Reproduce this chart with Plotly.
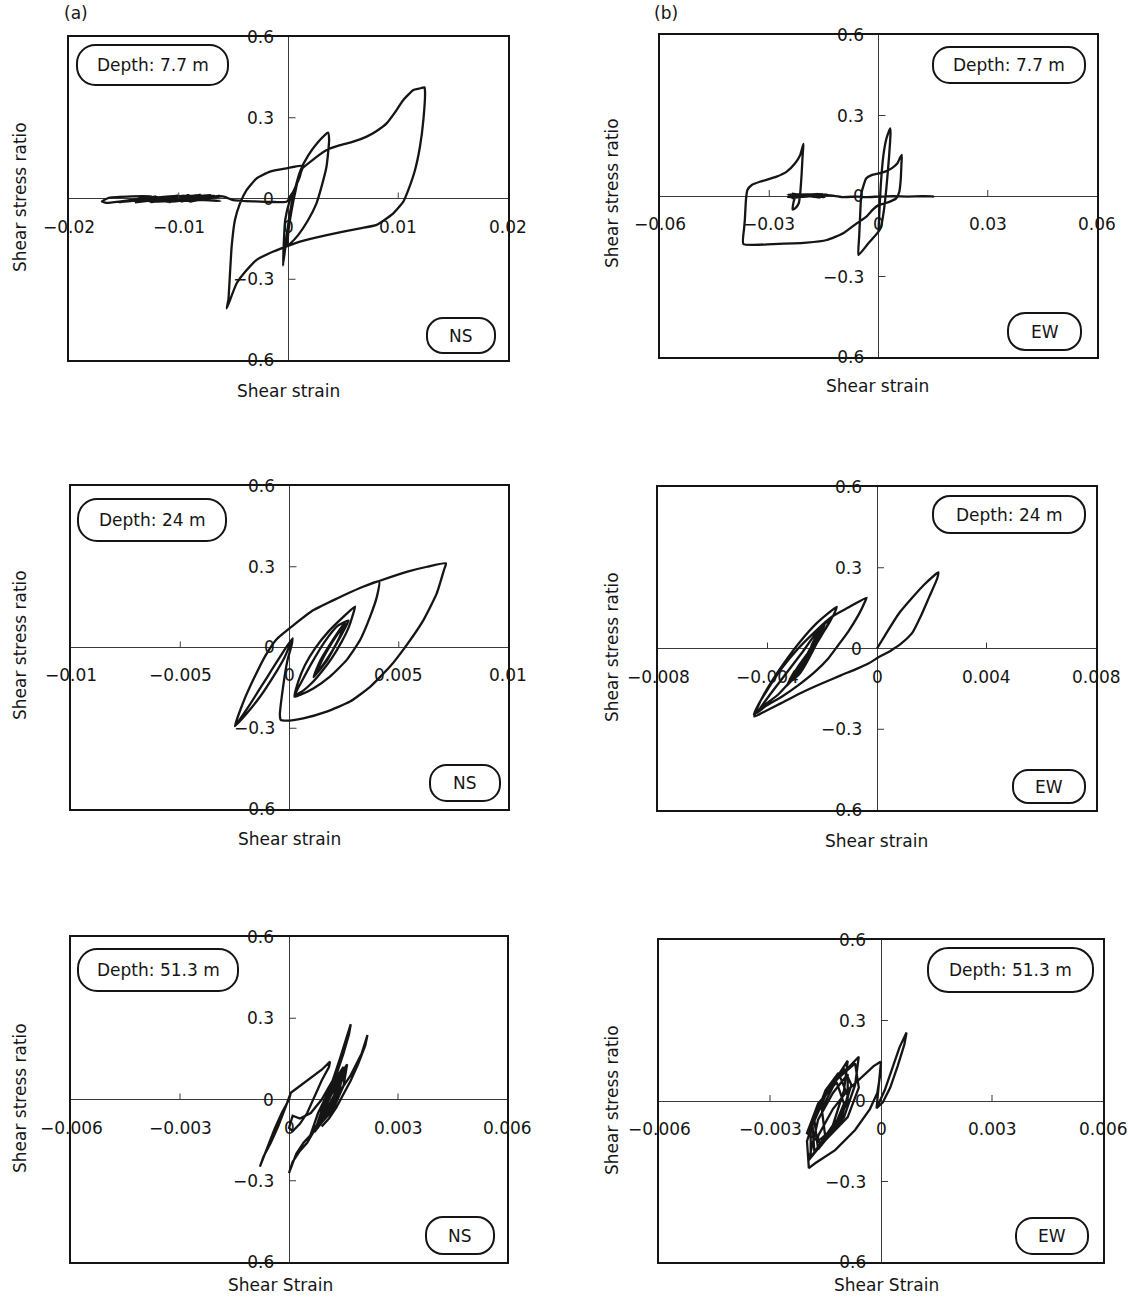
import plotly.graph_objects as go

W, H = 1129, 1297
FONT = "DejaVu Sans"
INK = "#151515"

# ---------------- data: shear strain / shear stress ratio ----------------
# (a) NS, depth 7.7 m
strain_ns_77 = [
    0.0, 0.0005, 0.0013, 0.0007, 0.0001, -0.0003, -0.0005, -0.0002, 0.0001, 0.0005, 0.0011,
    0.0018, 0.0027, 0.0036,
    0.0037, 0.00346, 0.00301, 0.00255, 0.00179, 0.00088, 0.00012, -0.00009,
    0.0, 0.0003, 0.0007, 0.0011,
    0.0021, 0.00348, 0.0047, 0.0059, 0.00712, 0.0080, 0.00894, 0.0097, 0.01046, 0.01138, 0.0119, 0.01238,
    0.01244, 0.01229, 0.01198, 0.01153, 0.01092, 0.01046, 0.00955, 0.00803, 0.00652, 0.00348, 0.00105,
    0.00014, -0.00138, -0.0029, -0.00381, -0.00472, -0.00563,
    -0.00548, -0.00533, -0.00518, -0.00488, -0.00442, -0.00381, -0.0029, -0.00169, -0.00017, 0.0012,
    0.00103, 0.00058, 0.00021, -0.00018,
    -0.00125, -0.00307, -0.00504,
    -0.0060, -0.0090, -0.0062, -0.0110, -0.0070, -0.0125, -0.0080, -0.0140, -0.0095, -0.0155,
    -0.0120, -0.0166, -0.0170, -0.0163, -0.0125, -0.0145, -0.0100, -0.0130, -0.0075, -0.0105,
    -0.0065, -0.0115, -0.0085, -0.0128, -0.0100, -0.0118, -0.0072, -0.0132, -0.0090, -0.0122,
    -0.0068, -0.0112, -0.0078, -0.0136, -0.0094, -0.0126, -0.0060, -0.0098, -0.0070, -0.0120,
    -0.0084, -0.0130, -0.0105, -0.0062, -0.0088,
]
ratio_ns_77 = [
    0.0, 0.03, 0.116, 0.05, -0.01, -0.08, -0.25, -0.15, -0.06, 0.02, 0.105,
    0.16, 0.21, 0.245,
    0.217, 0.118, 0.044, -0.018, -0.080, -0.136, -0.169, -0.176,
    -0.12, -0.04, 0.04, 0.105,
    0.14, 0.18, 0.198, 0.211, 0.23, 0.25, 0.279, 0.32, 0.366, 0.403, 0.408, 0.413,
    0.397, 0.292, 0.193, 0.106, 0.032, -0.012, -0.055, -0.098, -0.111, -0.136, -0.160,
    -0.173, -0.197, -0.228, -0.266, -0.315, -0.408,
    -0.377, -0.278, -0.179, -0.08, -0.018, 0.032, 0.075, 0.1, 0.112, 0.121,
    0.081, 0.038, 0.007, -0.012,
    -0.013, -0.011, -0.006,
    0.008, -0.012, 0.011, -0.014, 0.012, -0.013, 0.013, -0.014, 0.011, -0.015,
    0.008, -0.016, -0.011, 0.003, 0.009, -0.008, 0.012, -0.010, 0.012, -0.012,
    0.009, -0.010, 0.011, -0.008, 0.010, -0.006, 0.012, -0.011, 0.013, -0.012,
    0.010, -0.013, 0.012, -0.010, 0.011, -0.014, 0.008, -0.012, 0.010, -0.009,
    0.012, -0.007, 0.006, -0.009, -0.004,
]

# (b) EW, depth 7.7 m
strain_ew_77 = [
    0.0, 0.00014, 0.0006, 0.0013, 0.0022, 0.0032, 0.0033, 0.0029, 0.0022, 0.0015, 0.0007, 0.0,
    -0.003, -0.0055,
    -0.0053, -0.0050, -0.0047, -0.0042, -0.0034, -0.0019, 0.0, 0.0018, 0.0038, 0.0052, 0.0059, 0.0064,
    0.0063, 0.0061, 0.0057, 0.0048, 0.0036, 0.0018, 0.0, -0.0015, -0.0033, -0.006, -0.0097,
    -0.0142, -0.0197, -0.0289, -0.0371,
    -0.0369, -0.0367, -0.0364, -0.036, -0.0348, -0.0326, -0.028, -0.0252, -0.0229, -0.0215, -0.0206,
    -0.0208, -0.0211, -0.0215, -0.0219, -0.0229, -0.0236, -0.0233, -0.0229,
    -0.0245, -0.0160, -0.0238, -0.0148, -0.0250, -0.0145, -0.0232, -0.0165, -0.0242, -0.0152,
    -0.0236, -0.0158, -0.0248, -0.0143, -0.0228, -0.0172, -0.0240, -0.0140,
    -0.0100, -0.0060, -0.0030, 0.0, 0.0040, 0.0080, 0.0120, 0.0150, 0.0152,
]
ratio_ew_77 = [
    -0.133, -0.089, 0.035, 0.147, 0.215, 0.252, 0.234, 0.147, 0.035, -0.052, -0.114, -0.133,
    -0.18, -0.22,
    -0.15, -0.06, 0.01, 0.035, 0.065, 0.078, 0.084, 0.091, 0.105, 0.122, 0.142, 0.153,
    0.12, 0.06, 0.015, -0.01, -0.018, -0.027, -0.034, -0.05, -0.077, -0.102, -0.139,
    -0.164, -0.174, -0.179, -0.179,
    -0.12, -0.089, -0.015, 0.022, 0.041, 0.053, 0.072, 0.091, 0.122, 0.153, 0.194,
    0.159, 0.084, 0.01, -0.027, -0.046, -0.05, -0.021, -0.002,
    0.007, -0.006, 0.009, -0.005, 0.005, 0.006, -0.006, 0.008, -0.004, 0.006,
    -0.007, 0.007, -0.003, 0.005, -0.006, 0.006, -0.002, 0.003,
    -0.004, -0.002, -0.004, -0.002, -0.001, -0.002, -0.001, -0.002, -0.005,
]

# (a) NS, depth 24 m
strain_ns_24 = [
    0.0, 0.00014,
    -0.00021, -0.00074, -0.00135, -0.00196, -0.0025,
    -0.0021, -0.0016, -0.0011, -0.0006, 0.0002, 0.0011, 0.0022, 0.0032, 0.0041, 0.0054, 0.0063, 0.00716,
    0.00707, 0.00674, 0.00613, 0.00536, 0.0046, 0.00369, 0.00277, 0.0017, 0.00063, -0.00013, -0.0004, -0.00044,
    -0.0003, -0.0001, 0.0001, 0.00014,
    -0.0004, -0.0011, -0.0018, -0.0025,
    -0.0021, -0.0016, -0.0011, -0.0006, 0.0002, 0.0011, 0.0022, 0.0032, 0.0041,
    0.004, 0.00369, 0.00323, 0.00262, 0.00185, 0.00109, 0.00048, 0.00023,
    0.0004, 0.00071, 0.00117, 0.00178, 0.00239, 0.0030,
    0.00292, 0.00269, 0.00239, 0.00193, 0.00147, 0.00101, 0.00056, 0.00025,
    0.0006, 0.0010, 0.0016, 0.0022, 0.0027, 0.0024, 0.0019, 0.0014, 0.0011, 0.0014, 0.0020, 0.0025,
    0.0023, 0.0017, 0.0012, 0.0016, 0.0022, 0.0026,
]
ratio_ns_24 = [
    0.0, 0.034,
    -0.034, -0.108, -0.183, -0.245, -0.292,
    -0.20, -0.11, -0.03, 0.03, 0.084, 0.139, 0.183, 0.220, 0.247, 0.282, 0.300, 0.313,
    0.288, 0.201, 0.102, 0.009, -0.071, -0.146, -0.201, -0.238, -0.263, -0.272, -0.269, -0.251,
    -0.15, -0.05, 0.01, 0.034,
    -0.03, -0.12, -0.21, -0.292,
    -0.20, -0.11, -0.03, 0.03, 0.084, 0.139, 0.183, 0.220, 0.247,
    0.189, 0.115, 0.028, -0.046, -0.108, -0.152, -0.176, -0.183,
    -0.127, -0.065, -0.003, 0.059, 0.108, 0.152,
    0.127, 0.071, 0.022, -0.04, -0.09, -0.133, -0.164, -0.176,
    -0.12, -0.06, 0.02, 0.08, 0.10, 0.05, -0.02, -0.08, -0.11, -0.05, 0.03, 0.09,
    0.04, -0.05, -0.10, -0.03, 0.05, 0.09,
]

# (b) EW, depth 24 m
strain_ew_24 = [
    0.0, 0.0003, 0.0008, 0.0013, 0.0017, 0.00224,
    0.0022, 0.0019, 0.0016, 0.0013, 0.0009, 0.0005, 0.0001, -0.0003,
    -0.0007, -0.0013, -0.002, -0.0028, -0.0035, -0.0041, -0.00448,
    -0.00427, -0.00385, -0.00336, -0.00281, -0.0022, -0.00147,
    -0.00153, -0.00172, -0.00202, -0.00239, -0.00275, -0.00312, -0.0036, -0.0041, -0.0045,
    -0.00434, -0.00397, -0.00348, -0.00287, -0.00226, -0.00165, -0.00105, -0.00038,
    -0.00044, -0.00068, -0.00105, -0.00141, -0.00178, -0.00226, -0.00287, -0.00348, -0.00409, -0.0044,
    -0.0039, -0.0033, -0.0027, -0.0022, -0.0017, -0.0019, -0.0024, -0.0029, -0.0032, -0.0033,
    -0.0028, -0.0022, -0.0019, -0.0021, -0.0026, -0.0030, -0.0027, -0.0022, -0.0019, -0.0023,
    -0.0028, -0.0031, -0.0026, -0.0021, -0.00195, -0.0024, -0.0029, -0.0027, -0.0022, -0.0020,
    -0.0025, -0.0030, -0.0028, -0.0023, -0.0020, -0.0024,
]
ratio_ew_24 = [
    0.0, 0.05, 0.13, 0.19, 0.235, 0.283,
    0.26, 0.19, 0.12, 0.06, 0.02, -0.008, -0.03, -0.055,
    -0.074, -0.099, -0.129, -0.166, -0.203, -0.234, -0.253,
    -0.198, -0.123, -0.049, 0.025, 0.094, 0.155,
    0.137, 0.1, 0.05, -0.012, -0.074, -0.117, -0.17, -0.21, -0.245,
    -0.21, -0.148, -0.074, 0.001, 0.063, 0.118, 0.152, 0.189,
    0.174, 0.124, 0.063, 0.013, -0.037, -0.086, -0.136, -0.179, -0.216, -0.241,
    -0.17, -0.09, -0.01, 0.06, 0.112, 0.07, 0.0, -0.07, -0.12, -0.14,
    -0.08, 0.03, 0.10, 0.04, -0.05, -0.11, -0.05, 0.04, 0.09, 0.0,
    -0.09, -0.12, -0.03, 0.06, 0.08, -0.01, -0.10, -0.06, 0.05, 0.08,
    -0.02, -0.10, -0.07, 0.02, 0.09, 0.01,
]

# (a) NS, depth 51.3 m
strain_ns_513 = [
    0.0, 0.00005, -0.0001, -0.0003, -0.0005, -0.0007, -0.0008, -0.0006, -0.0004, -0.0002, 0.0, 0.00005,
    0.0003, 0.0006, 0.0009, 0.00113,
    0.0011, 0.0009, 0.0007, 0.0005, 0.0003, 0.0001, 0.0, 0.0001,
    0.0003, 0.0006, 0.0009, 0.0012, 0.0014, 0.0016, 0.0017,
    0.00165, 0.0015, 0.0013, 0.0011, 0.0009, 0.0007, 0.00056,
    0.0008, 0.0012, 0.0015, 0.0014, 0.0011, 0.0007,
    0.0009, 0.0013, 0.0016, 0.0015, 0.0012, 0.0008,
    0.0010, 0.0013, 0.0014, 0.0013, 0.0010, 0.0007,
    0.0009, 0.0011, 0.0014, 0.0012, 0.0009,
    0.0011, 0.0015, 0.00155, 0.0013, 0.0010, 0.0008,
    0.0005, 0.0003, 0.0001, 0.0,
    0.0002, 0.0004, 0.0006, 0.0009, 0.0013, 0.0017, 0.0020, 0.00216,
    0.0021, 0.0019, 0.0017, 0.0015, 0.0013, 0.0011, 0.0009,
]
ratio_ns_513 = [
    0.0, 0.025, -0.03, -0.10, -0.16, -0.21, -0.248, -0.18, -0.11, -0.05, 0.0, 0.025,
    0.05, 0.08, 0.11, 0.14,
    0.12, 0.07, 0.01, -0.05, -0.09, -0.117, -0.105, -0.06,
    -0.07, -0.05, 0.0, 0.07, 0.15, 0.23, 0.278,
    0.24, 0.17, 0.09, 0.01, -0.06, -0.11, -0.143,
    -0.05, 0.06, 0.12, 0.04, -0.05, -0.12,
    -0.04, 0.07, 0.13, 0.05, -0.04, -0.10,
    -0.02, 0.05, 0.09, 0.02, -0.06, -0.11,
    -0.06, 0.0, 0.08, 0.0, -0.08,
    -0.02, 0.08, 0.11, 0.03, -0.05, -0.09,
    -0.16, -0.19, -0.23, -0.272,
    -0.2, -0.16, -0.13, -0.07, 0.01, 0.09, 0.17, 0.238,
    0.20, 0.13, 0.07, 0.02, -0.03, -0.07, -0.1,
]

# (b) EW, depth 51.3 m
strain_ew_513 = [
    -0.00012, 0.0001, 0.0003, 0.0005, 0.00069,
    0.00063, 0.00045, 0.00025, 0.00005, -0.00012,
    0.0, -0.00003, -0.0001, -0.0003, -0.0007, -0.00124, -0.00178, -0.00195,
    -0.0020, -0.0017, -0.0009, -0.0010, -0.0013, -0.0019,
    -0.0019, -0.0014, -0.0006, -0.0007, -0.0010, -0.0017,
    -0.0018, -0.0015, -0.00115, -0.0009, -0.0011, -0.0018,
    -0.00185, -0.0015, -0.0010, -0.0008, -0.0010, -0.0015,
    -0.0016, -0.0012, -0.0007, -0.0006, -0.0009, -0.0016,
    -0.0020, -0.0017, -0.0012, -0.0010, -0.0013, -0.00195,
    -0.0017, -0.0013, -0.0009, -0.0009, -0.0012, -0.0017,
    -0.0017, -0.0013, -0.0009, -0.0005, -0.0002, 0.0,
]
ratio_ew_513 = [
    -0.027, 0.04, 0.12, 0.20, 0.255,
    0.21, 0.13, 0.05, -0.005, -0.027,
    0.147, 0.09, 0.03, -0.03, -0.108, -0.183, -0.232, -0.25,
    -0.15, -0.02, 0.15, 0.04, -0.09, -0.21,
    -0.10, 0.05, 0.165, 0.06, -0.06, -0.18,
    -0.07, 0.04, 0.105, 0.02, -0.08, -0.19,
    -0.09, 0.02, 0.12, 0.06, -0.03, -0.14,
    -0.03, 0.08, 0.14, 0.05, -0.06, -0.16,
    -0.12, -0.01, 0.07, -0.01, -0.11, -0.22,
    -0.07, 0.03, 0.10, 0.0, -0.09, -0.15,
    -0.13, -0.03, 0.04, 0.09, 0.13, 0.147,
]

# tick values and labels
y_ticks = [0.6, 0.3, 0.0, -0.3, -0.6]
y_tick_text = ["0.6", "0.3", "0", "\u22120.3", "\u22120.6"]
x_ticks_ns_77 = [-0.02, -0.01, 0.0, 0.01, 0.02]
x_text_ns_77 = ["\u22120.02", "\u22120.01", "0", "0.01", "0.02"]
x_ticks_ew_77 = [-0.06, -0.03, 0.0, 0.03, 0.06]
x_text_ew_77 = ["\u22120.06", "\u22120.03", "0", "0.03", "0.06"]
x_ticks_ns_24 = [-0.01, -0.005, 0.0, 0.005, 0.01]
x_text_ns_24 = ["\u22120.01", "\u22120.005", "0", "0.005", "0.01"]
x_ticks_ew_24 = [-0.008, -0.004, 0.0, 0.004, 0.008]
x_text_ew_24 = ["\u22120.008", "\u22120.004", "0", "0.004", "0.008"]
x_ticks_513 = [-0.006, -0.003, 0.0, 0.003, 0.006]
x_text_513 = ["\u22120.006", "\u22120.003", "0", "0.003", "0.006"]

# ---------------- panel layout (pixel boxes: left, right, top, bottom) ----------------
panels = [
    dict(x=strain_ns_77, y=ratio_ns_77, ticks=x_ticks_ns_77, text=x_text_ns_77, shape="spline",
         box=(69, 508, 37, 360), depth="Depth: 7.7 m", depth_box=(77, 228, 45, 85),
         comp="NS", comp_box=(427, 495, 318, 353), xtitle="Shear strain", xt=(288, 391), yt=(20, 197)),
    dict(x=strain_ew_77, y=ratio_ew_77, ticks=x_ticks_ew_77, text=x_text_ew_77, shape="spline",
         box=(660, 1097, 35, 357), depth="Depth: 7.7 m", depth_box=(933, 1085, 47, 83),
         comp="EW", comp_box=(1008, 1081, 313, 350), xtitle="Shear strain", xt=(877, 386), yt=(612, 193)),
    dict(x=strain_ns_24, y=ratio_ns_24, ticks=x_ticks_ns_24, text=x_text_ns_24, shape="spline",
         box=(71, 508, 486, 809), depth="Depth: 24 m", depth_box=(78, 226, 499, 541),
         comp="NS", comp_box=(430, 500, 765, 801), xtitle="Shear strain", xt=(289, 839), yt=(20, 645)),
    dict(x=strain_ew_24, y=ratio_ew_24, ticks=x_ticks_ew_24, text=x_text_ew_24, shape="spline",
         box=(658, 1096, 487, 810), depth="Depth: 24 m", depth_box=(933, 1085, 496, 533),
         comp="EW", comp_box=(1013, 1085, 770, 803), xtitle="Shear strain", xt=(876, 841), yt=(612, 647)),
    dict(x=strain_ns_513, y=ratio_ns_513, ticks=x_ticks_513, text=x_text_513, shape="linear",
         box=(71, 507, 937, 1262), depth="Depth: 51.3 m", depth_box=(78, 238, 949, 991),
         comp="NS", comp_box=(426, 494, 1217, 1254), xtitle="Shear Strain", xt=(280, 1285), yt=(20, 1098)),
    dict(x=strain_ew_513, y=ratio_ew_513, ticks=x_ticks_513, text=x_text_513, shape="linear",
         box=(659, 1103, 940, 1262), depth="Depth: 51.3 m", depth_box=(928, 1093, 948, 992),
         comp="EW", comp_box=(1016, 1088, 1218, 1254), xtitle="Shear Strain", xt=(886, 1285), yt=(612, 1100)),
]


def px(xp, yp):
    return xp / W, 1 - yp / H


def pill_path(l, r, t, b):
    rad = (b - t) / 2 * 0.92
    k = 0.5523 * rad
    pts = [
        ("M", [(l + rad, t)]),
        ("L", [(r - rad, t)]),
        ("C", [(r - rad + k, t), (r, t + rad - k), (r, t + rad)]),
        ("L", [(r, b - rad)]),
        ("C", [(r, b - rad + k), (r - rad + k, b), (r - rad, b)]),
        ("L", [(l + rad, b)]),
        ("C", [(l + rad - k, b), (l, b - rad + k), (l, b - rad)]),
        ("L", [(l, t + rad)]),
        ("C", [(l, t + rad - k), (l + rad - k, t), (l + rad, t)]),
    ]
    out = []
    for cmd, coords in pts:
        s = " ".join("%.5f,%.5f" % px(a, c) for a, c in coords)
        out.append(cmd + " " + s)
    return " ".join(out) + " Z"


fig = go.Figure()
annotations = []
shapes = []
layout_axes = {}

for i, p in enumerate(panels, start=1):
    xa = "x" if i == 1 else "x%d" % i
    ya = "y" if i == 1 else "y%d" % i
    xr = max(p["ticks"])
    l, r, t, b = p["box"]

    line_style = dict(color=INK, width=2.3, shape=p["shape"])
    if p["shape"] == "spline":
        line_style["smoothing"] = 0.5
    fig.add_trace(go.Scatter(
        x=p["x"], y=p["y"], mode="lines", xaxis=xa, yaxis=ya,
        line=line_style, hoverinfo="skip", showlegend=False,
    ))

    common = dict(showgrid=False, zeroline=True, zerolinecolor="#3a3a3a", zerolinewidth=1,
                  showline=True, mirror=True, linecolor=INK, linewidth=2.2,
                  showticklabels=False, ticks="", fixedrange=True)
    layout_axes["xaxis" if i == 1 else "xaxis%d" % i] = dict(
        common, domain=[l / W, r / W], range=[-xr, xr], anchor=ya)
    layout_axes["yaxis" if i == 1 else "yaxis%d" % i] = dict(
        common, domain=[1 - b / H, 1 - t / H], range=[-0.6, 0.6], anchor=xa)

    # strain tick labels under the zero line, short ticks above it
    for v, txt in zip(p["ticks"], p["text"]):
        annotations.append(dict(xref=xa, yref=ya, x=v, y=0, text=txt, showarrow=False,
                                xanchor="center", yanchor="middle", yshift=-28,
                                font=dict(family=FONT, size=17, color=INK)))
        if 0 < abs(v) < xr:
            shapes.append(dict(type="line", xref=xa, yref=ya, x0=v, x1=v,
                               ysizemode="pixel", yanchor=0, y0=0, y1=6,
                               line=dict(color="#3a3a3a", width=1)))
    # stress-ratio tick labels left of the zero line, short ticks to its right
    for v, txt in zip(y_ticks, y_tick_text):
        annotations.append(dict(xref=xa, yref=ya, x=0, y=v, text=txt, showarrow=False,
                                xanchor="right", yanchor="middle", xshift=-13,
                                font=dict(family=FONT, size=17, color=INK)))
        if 0 < abs(v) < 0.6:
            shapes.append(dict(type="line", xref=xa, yref=ya, y0=v, y1=v,
                               xsizemode="pixel", xanchor=0, x0=0, x1=7,
                               line=dict(color="#3a3a3a", width=1)))

    # axis titles
    tx, ty = px(*p["xt"])
    annotations.append(dict(xref="paper", yref="paper", x=tx, y=ty, text=p["xtitle"],
                            showarrow=False, xanchor="center", yanchor="middle",
                            font=dict(family=FONT, size=17, color=INK)))
    sx, sy = px(*p["yt"])
    annotations.append(dict(xref="paper", yref="paper", x=sx, y=sy, text="Shear stress ratio",
                            showarrow=False, xanchor="center", yanchor="middle", textangle=-90,
                            font=dict(family=FONT, size=17, color=INK)))

    # rounded labels: depth and component
    for label, bx in ((p["depth"], p["depth_box"]), (p["comp"], p["comp_box"])):
        shapes.append(dict(type="path", xref="paper", yref="paper", path=pill_path(*bx),
                           line=dict(color=INK, width=2), fillcolor="rgba(0,0,0,0)"))
        cx, cy = px((bx[0] + bx[1]) / 2, (bx[2] + bx[3]) / 2)
        annotations.append(dict(xref="paper", yref="paper", x=cx, y=cy, text=label,
                                showarrow=False, xanchor="center", yanchor="middle",
                                font=dict(family=FONT, size=17, color=INK)))

for lab, pos in (("(a)", (76, 13)), ("(b)", (666, 13))):
    ax, ay = px(*pos)
    annotations.append(dict(xref="paper", yref="paper", x=ax, y=ay, text=lab, showarrow=False,
                            xanchor="center", yanchor="middle",
                            font=dict(family=FONT, size=17, color=INK)))

fig.update_layout(
    width=W, height=H,
    margin=dict(l=0, r=0, t=0, b=0),
    paper_bgcolor="white", plot_bgcolor="white",
    showlegend=False,
    annotations=annotations,
    shapes=shapes,
    **layout_axes,
)

fig.write_html("out.html")
